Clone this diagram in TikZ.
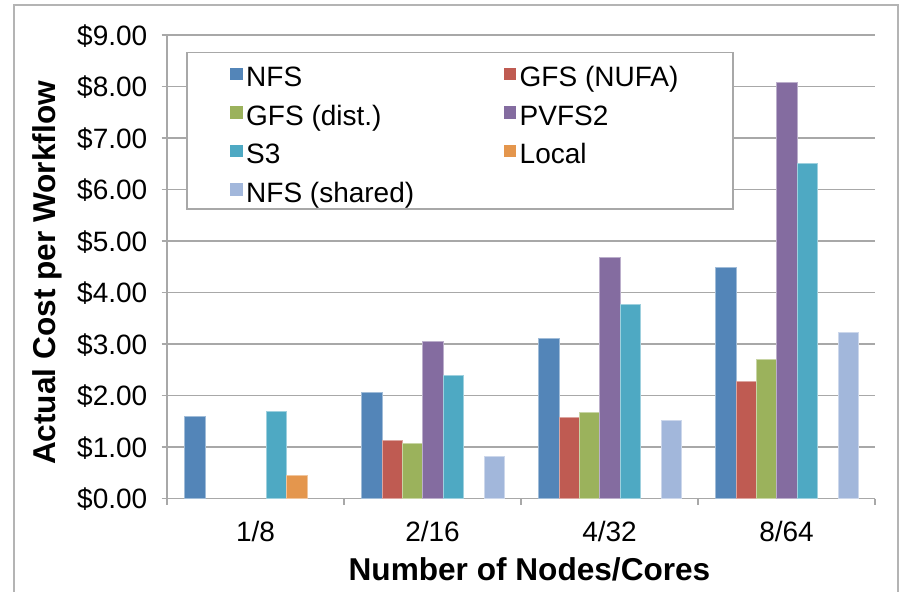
\documentclass[tikz,border=0pt]{standalone}
\usepackage{fontspec}
\setmainfont{Liberation Sans}
\definecolor{cNFS}{HTML}{5385B8}
\definecolor{cNUFA}{HTML}{BF5B52}
\definecolor{cDist}{HTML}{9BB25C}
\definecolor{cPVFS}{HTML}{846CA0}
\definecolor{cSthree}{HTML}{4EA9C3}
\definecolor{cLocal}{HTML}{E4964D}
\definecolor{cShared}{HTML}{A2B7DB}
\definecolor{gridgray}{HTML}{A8A8A8}
\definecolor{framegray}{HTML}{B4B4B4}
\tikzset{
  gridline/.style={draw=gridgray, line width=1.6pt},
  axisline/.style={draw=gridgray, line width=1.6pt},
  ticklab/.style={inner sep=0pt, font=\fontsize{28}{32}\selectfont},
  leglab/.style={inner sep=0pt, anchor=base west, font=\fontsize{28}{32}\selectfont},
  titlelab/.style={inner sep=0pt, font=\fontsize{31.6}{36}\selectfont\bfseries},
  legbox/.style={draw=gridgray, line width=1.6pt, fill=white},
}
\begin{document}
\begin{tikzpicture}[x=1pt,y=-1pt]
\useasboundingbox (0,0) rectangle (906,592);
% outer frame
\draw[framegray, line width=2pt] (14.3,593) -- (14.3,5.3) -- (898.3,5.3) -- (898.3,593);
% gridlines
\foreach \k in {1,...,9}
  \draw[gridline] (167,{498.5-51.5*\k}) -- (875,{498.5-51.5*\k});
% axes
\draw[axisline] (167,{498.5-51.5*9}) -- (167,498.5) -- (875,498.5);
\foreach \k in {0,...,9}
  \draw[axisline] (161.5,{498.5-51.5*\k}) -- (167,{498.5-51.5*\k});
\foreach \j in {0,...,4}
  \draw[axisline] ({167+177*\j},498.5) -- ({167+177*\j},505);
% y tick labels
\foreach \k in {0,...,9}
  \node[ticklab, anchor=base east] (yl\k) at (147.5,{498.5-51.5*\k+10}) {\$\k.00};
% x tick labels
\node[ticklab, anchor=base] (xa) at ({167+88.5},541.5) {1/8};
\node[ticklab, anchor=base] (xb) at ({167+177+88.5},541.5) {2/16};
\node[ticklab, anchor=base] (xc) at ({167+2*177+88.5},541.5) {4/32};
\node[ticklab, anchor=base] (xd) at ({167+3*177+88.5},541.5) {8/64};
% titles
\node[titlelab, anchor=base] (xtitle) at (529.5,580) {Number of Nodes/Cores};
\node[titlelab, anchor=base, rotate=90] (ytitle) at (56,273) {Actual Cost per Workflow};
% bars
\foreach \g/\i/\v/\c in {
  0/0/1.60/cNFS, 0/4/1.70/cSthree, 0/5/0.46/cLocal,
  1/0/2.07/cNFS, 1/1/1.14/cNUFA, 1/2/1.08/cDist, 1/3/3.05/cPVFS, 1/4/2.40/cSthree, 1/6/0.82/cShared,
  2/0/3.12/cNFS, 2/1/1.58/cNUFA, 2/2/1.67/cDist, 2/3/4.69/cPVFS, 2/4/3.77/cSthree, 2/6/1.51/cShared,
  3/0/4.49/cNFS, 3/1/2.27/cNUFA, 3/2/2.70/cDist, 3/3/8.09/cPVFS, 3/4/6.51/cSthree, 3/6/3.22/cShared}
{
  \pgfmathsetmacro\xa{184.5+177*\g+20.4*\i}
  \pgfmathsetmacro\yt{498.5-51.5*\v}
  \filldraw[fill=\c, draw=\c!55!white, line width=0.5pt] (\xa,498.5) rectangle ({\xa+20.4},\yt);
}
% legend
\draw[legbox] (187,52.5) rectangle (733,209);
\foreach \n/\c/\t/\r in {a/cNFS/NFS/0, b/cDist/GFS (dist.)/1, c/cSthree/S3/2, d/cShared/NFS (shared)/3}
{
  \fill[\c] (230,{86.7+38.5*\r-19}) rectangle (242.5,{86.7+38.5*\r-6.5});
  \node[leglab] (leg\n) at (246,{86.7+38.5*\r}) {\t};
}
\foreach \n/\c/\t/\r in {e/cNUFA/GFS (NUFA)/0, f/cPVFS/PVFS2/1, g/cLocal/Local/2}
{
  \fill[\c] (503.5,{86.7+38.5*\r-19}) rectangle (516,{86.7+38.5*\r-6.5});
  \node[leglab] (leg\n) at (519.5,{86.7+38.5*\r}) {\t};
}
\end{tikzpicture}
\end{document}
